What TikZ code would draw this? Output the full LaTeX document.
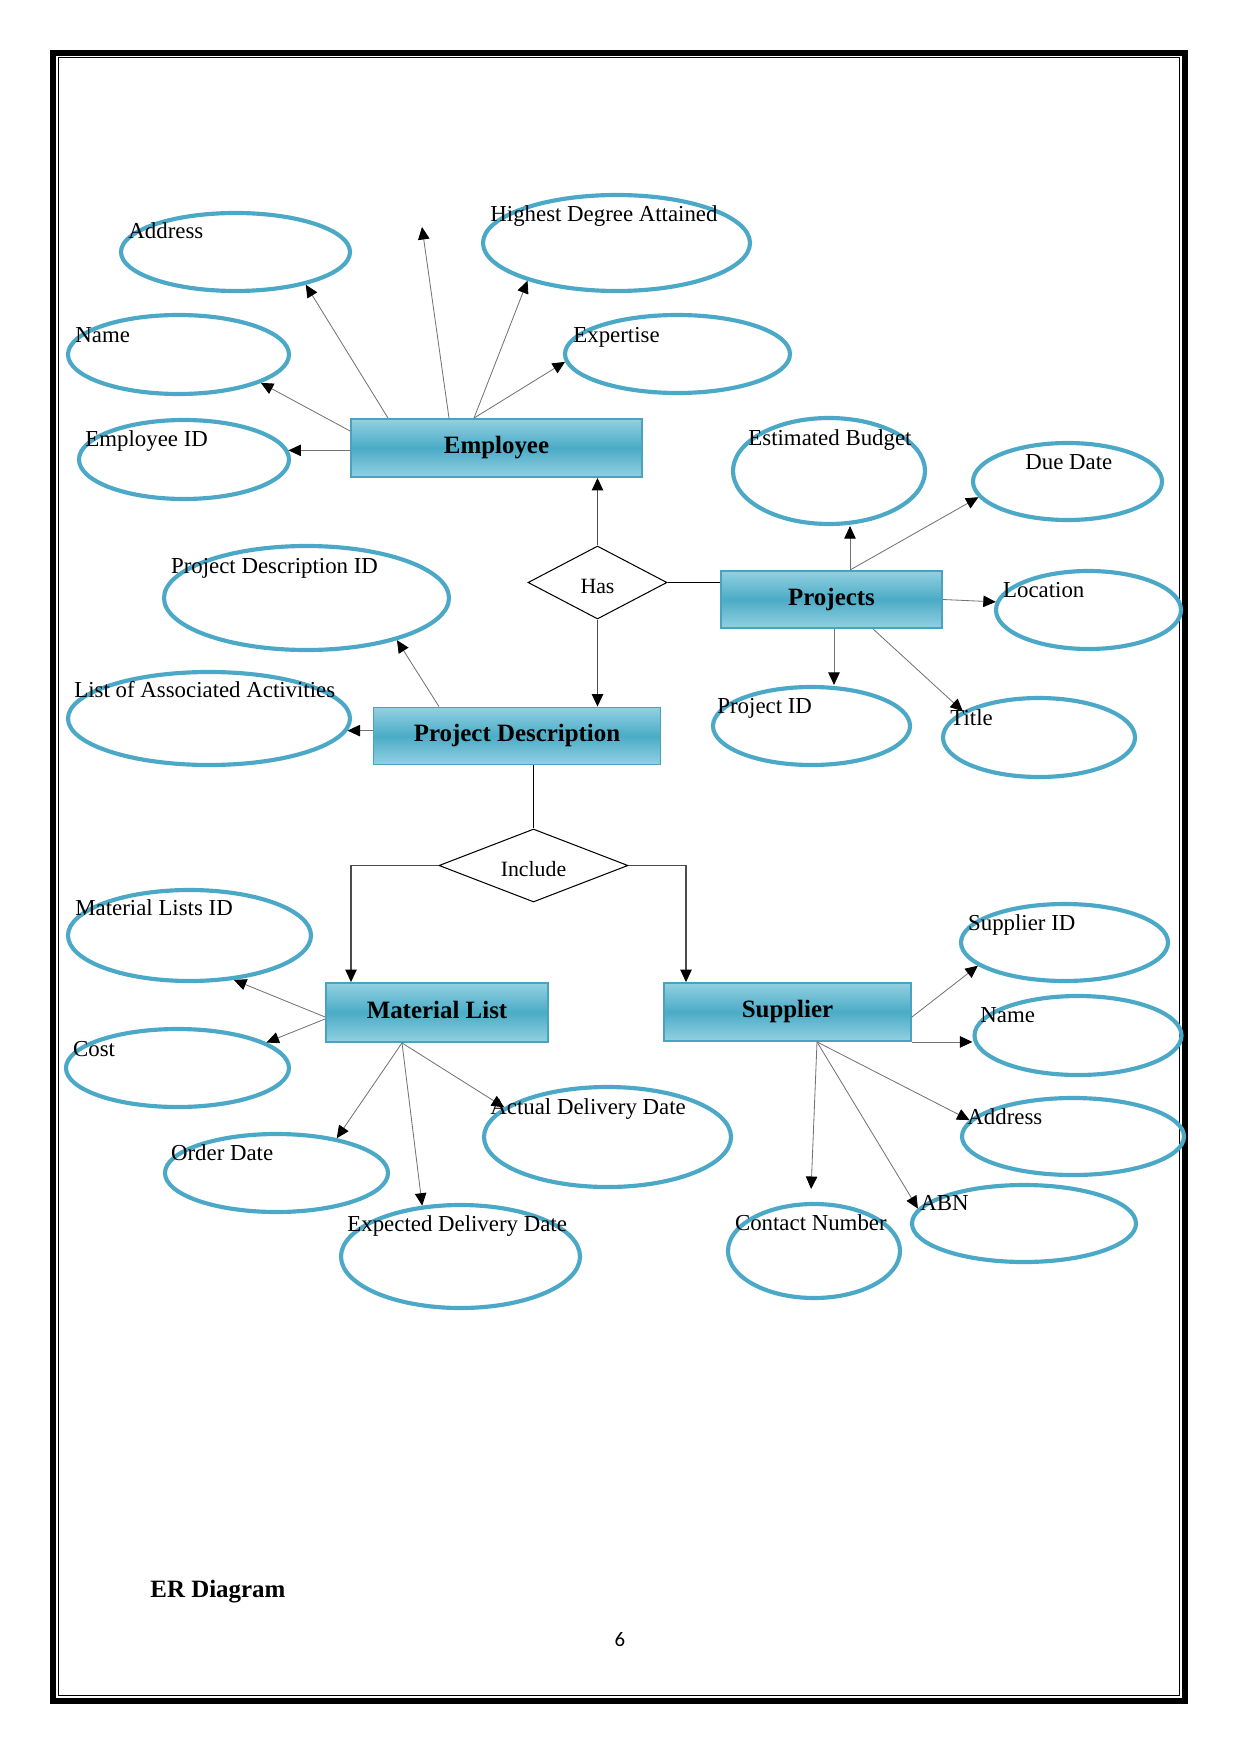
\documentclass[tikz,border=0pt]{standalone}
\usepackage{fontspec}
\setmainfont{Liberation Serif}
\newfontfamily\pageNumFont{Carlito}
\usepackage{tikz}
\usetikzlibrary{shapes.geometric, arrows.meta, positioning, calc}
\definecolor{ERBlue}{RGB}{75, 168, 198}
\definecolor{EREdge}{RGB}{72, 162, 192}
\definecolor{ERLight}{RGB}{146, 208, 226}
\definecolor{ERMid}{RGB}{75, 172, 198}
\newlength{\pxUnit}
\setlength{\pxUnit}{0.016922cm}
\tikzset{
    boxSize/.style 2 args={minimum width=#1\pxUnit, minimum height=#2\pxUnit},
    entity/.style={rectangle, draw=EREdge, line width=0.9pt, top color=ERLight, bottom color=ERLight, middle color=ERMid, inner sep=0pt, text height=8.5pt, text depth=3pt, font=\fontsize{12}{14}\selectfont\bfseries},
    attr/.style={ellipse, draw=ERBlue, line width=2pt, inner sep=0pt},
    attrText/.style={anchor=west, inner sep=0pt, font=\fontsize{11}{13}\selectfont, text height=7.4pt, text depth=0pt},
    relation/.style={diamond, draw=black, line width=0.5pt, fill=white, inner sep=0pt, aspect=2, text height=10.4pt, text depth=0pt, font=\fontsize{10.5}{12}\selectfont},
    attrArrow/.style={-{Triangle[length=6pt, width=5.5pt, color=black]}, line width=0.4pt, draw=black!55},
    relLine/.style={line width=0.5pt, draw=black},
    relArrow/.style={-{Triangle[length=6pt, width=5.5pt, color=black]}, line width=0.5pt, draw=black!70}
}

\begin{document}
\begin{tikzpicture}[x=0.016922cm, y=-0.016922cm]

    \useasboundingbox (0,0) rectangle (1241,1754);

    % --- PAGE BORDER ---
    \draw[line width=6\pxUnit] (53,53) rectangle (1185,1701);
    \draw[line width=1.3\pxUnit] (58.3,57.5) rectangle (1179.5,1695.3);

    % --- ENTITIES ---
    \node[entity, boxSize={291}{58}] (emp)  at (496.5,448)   {Employee};
    \node[entity, boxSize={221}{57}] (proj) at (831.5,599.5) {Projects};
    \node[entity, boxSize={287}{57}] (pd)   at (517,736)     {Project Description};
    \node[entity, boxSize={222}{59}] (ml)   at (437,1012.5)  {Material List};
    \node[entity, boxSize={247}{58}] (sup)  at (787.5,1012)  {Supplier};

    % --- RELATIONSHIPS ---
    \node[relation, boxSize={139}{73}] (has) at (597.5,582.5) {Has};
    \node[relation, boxSize={189}{73}] (inc) at (533.5,865.5) {Include};

    % --- EMPLOYEE ATTRIBUTES ---
    \node[attr, boxSize={229}{78}] (addr)   at (235.5,252) {};
    \node[attr, boxSize={221}{79}] (ename)  at (178.5,354.5) {};
    \node[attr, boxSize={210}{79}] (empid)  at (184,459.5) {};
    \node[attr, boxSize={267}{96}] (hda)    at (616.5,243) {};
    \node[attr, boxSize={225}{78}] (expert) at (677.5,354) {};
    \coordinate (empFree) at (422,227);

    \node[attrText] (addrT)   at (128,231)   {Address};
    \node[attrText] (enameT)  at (75,334.5)  {Name};
    \node[attrText] (empidT)  at (85,438.7)  {Employee ID};
    \node[attrText] (hdaT)    at (490,213.8) {Highest Degree Attained};
    \node[attrText] (expertT) at (573,334.7) {Expertise};

    % --- PROJECTS ATTRIBUTES ---
    \node[attr, boxSize={192}{106}] (budget) at (829,471) {};
    \node[attr, boxSize={189}{77}]  (due)    at (1067.5,481.5) {};
    \node[attr, boxSize={185}{78}]  (loc)    at (1088.5,610) {};
    \node[attr, boxSize={197}{78}]  (pid)    at (811.5,726) {};
    \node[attr, boxSize={192}{79}]  (ptitle) at (1039,737.5) {};

    \node[attrText] (budgetT) at (748,438.3)    {Estimated Budget};
    \node[attrText] (dueT)    at (1025,461.7)   {Due Date};
    \node[attrText] (locT)    at (1002.7,589.8) {Location};
    \node[attrText] (pidT)    at (717,705.8)    {Project ID};
    \node[attrText] (ptitleT) at (950,717.5)    {Title};

    % --- PROJECT DESCRIPTION ATTRIBUTES ---
    \node[attr, boxSize={285}{104}] (pdid)  at (306.5,598) {};
    \node[attr, boxSize={282}{93}]  (activ) at (209,718.5) {};

    \node[attrText] (pdidT)  at (170.7,565.8) {Project Description ID};
    \node[attrText] (activT) at (74,690.2)    {List of Associated Activities};

    % --- MATERIAL LIST ATTRIBUTES ---
    \node[attr, boxSize={243}{91}]  (mlid)  at (189.5,935.5) {};
    \node[attr, boxSize={223}{78}]  (cost)  at (177.5,1068) {};
    \node[attr, boxSize={223}{78}]  (odate) at (276.5,1173) {};
    \node[attr, boxSize={247}{100}] (adate) at (607.5,1137) {};
    \node[attr, boxSize={239}{103}] (edate) at (460.5,1256.5) {};

    \node[attrText] (mlidT)  at (75,908.3)     {Material Lists ID};
    \node[attrText] (costT)  at (72.7,1049.2)  {Cost};
    \node[attrText] (odateT) at (170.7,1152.5) {Order Date};
    \node[attrText] (adateT) at (490,1106.7)   {Actual Delivery Date};
    \node[attrText] (edateT) at (347,1224)     {Expected Delivery Date};

    % --- SUPPLIER ATTRIBUTES ---
    \node[attr, boxSize={207}{77}] (supid)   at (1064.5,942.5) {};
    \node[attr, boxSize={207}{79}] (sname)   at (1078,1035.5) {};
    \node[attr, boxSize={222}{77}] (saddr)   at (1073,1136.5) {};
    \node[attr, boxSize={224}{77}] (abn)     at (1024,1223.5) {};
    \node[attr, boxSize={172}{94}] (contact) at (814,1251) {};

    \node[attrText] (supidT)   at (967.7,923)  {Supplier ID};
    \node[attrText] (snameT)   at (980,1015)   {Name};
    \node[attrText] (saddrT)   at (967,1117)   {Address};
    \node[attrText] (abnT)     at (920,1203)   {ABN};
    \node[attrText] (contactT) at (734.6,1223) {Contact Number};

    % --- RELATIONSHIP LINES ---
    \draw[relArrow] (has.north) -- (has.north |- emp.south);
    \draw[relArrow] (has.south) -- (has.south |- pd.north);
    \draw[relLine]  (has.east) -- (has.east -| proj.west);

    \draw[relLine]  (inc.north |- pd.south) -- (inc.north);
    \draw[relArrow] (inc.west) -| ($(ml.north)+(-86,0)$);
    \draw[relArrow] (inc.east) -| ($(sup.north)+(-101.5,0)$);

    % --- ATTRIBUTE ARROWS ---
    % Employee
    \draw[attrArrow] ($(emp.north)+(-108.5,0)$) -- (addr.-25);
    \draw[attrArrow] ($(emp.west)+(0,-17)$) -- (ename.-19);
    \draw[attrArrow] (empid.5 -| emp.west) -- (empid.5);
    \draw[attrArrow] ($(emp.north)+(-47.5,0)$) -- (empFree);
    \draw[attrArrow] ($(emp.north)+(-22.5,0)$) coordinate (empTop) -- (hda.-157);
    \draw[attrArrow] (empTop) -- (expert.-176);

    % Projects
    \draw[attrArrow] ($(proj.north)+(18.5,0)$) coordinate (projTop) -- (projTop |- budget.south);
    \draw[attrArrow] (projTop) -- (due.-170);
    \draw[attrArrow] (proj.east) -- (loc.175);
    \draw[attrArrow] ($(proj.south)+(2.5,0)$) coordinate (projBot) -- (projBot |- pid.north);
    \draw[attrArrow] ($(proj.south)+(41.5,0)$) -- (ptitle.161);

    % Project Description
    \draw[attrArrow] ($(pd.north)+(-78,0)$) -- (pdid.-25);
    \draw[attrArrow] (activ.-5 -| pd.west) -- (activ.-5);

    % Material List
    \draw[attrArrow] ($(ml.west)+(0,4.5)$) -- (mlid.-45);
    \draw[attrArrow] ($(ml.west)+(0,6.5)$) -- (cost.16);
    \draw[attrArrow] ($(ml.south)+(-35,0)$) coordinate (mlBot) -- (odate.30);
    \draw[attrArrow] (mlBot) -- (edate.127);
    \draw[attrArrow] (mlBot) -- (adate.164);

    % Supplier
    \draw[attrArrow] ($(sup.east)+(0,5)$) -- (supid.-165);
    \draw[attrArrow] (sup.south east) -- (sup.south east -| sname.west);
    \draw[attrArrow, shorten >=13\pxUnit] ($(sup.south)+(29.5,0)$) coordinate (supBot) -- (contact.94);
    \draw[attrArrow] (supBot) -- (abn.172);
    \draw[attrArrow] (supBot) -- (saddr.171);

    % --- CAPTION & PAGE NUMBER ---
    \node[anchor=west, inner sep=0pt, font=\fontsize{12}{14}\selectfont\bfseries, text height=8pt, text depth=0pt] (caption) at (150,1589) {ER Diagram};
    \node[inner sep=0pt, font=\pageNumFont\fontsize{10}{12}\selectfont] (pageNum) at (620,1640) {6};

\end{tikzpicture}
\end{document}
